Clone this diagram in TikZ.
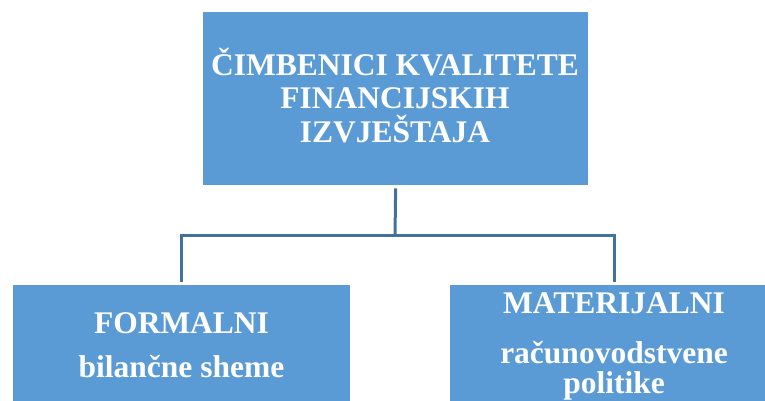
\documentclass[tikz,border=0pt]{standalone}
\usepackage{fontspec}
\setmainfont{Liberation Serif}
\definecolor{boxfill}{HTML}{5B9BD5}
\definecolor{linkcol}{HTML}{41719C}
\tikzset{
  box/.style={draw=none, fill=boxfill, inner sep=0pt, anchor=north west},
  boxtext/.style={text=white, font=\bfseries\fontsize{31.5}{33.5}\selectfont, align=center, inner sep=0pt, anchor=base},
  link/.style={draw=linkcol, line width=3pt}
}
\begin{document}
\begin{tikzpicture}[x=1pt,y=-1pt]
\useasboundingbox (0,0) rectangle (765,400);
\clip (0,0) rectangle (765,400);
% boxes
\node[box, minimum width=385pt, minimum height=173pt] (top) at (203,12) {};
\node[box, minimum width=337pt, minimum height=130pt] (left) at (13,285) {};
\node[box, minimum width=328pt, minimum height=130pt] (right) at (450,285) {};
% texts (base anchor = baseline of last line)
\node[boxtext] (toptxt) at (395,142) {ČIMBENICI KVALITETE\\FINANCIJSKIH\\IZVJEŠTAJA};
\node[boxtext] (lefttitle) at (181.5,333) {FORMALNI};
\node[boxtext] (leftsub) at (181.5,377) {bilančne sheme};
\node[boxtext] (righttitle) at (614,313) {MATERIJALNI};
\node[boxtext, font=\bfseries\fontsize{31.5}{29.5}\selectfont] (rightsub) at (614,393) {računovodstvene\\politike};
% connectors
\coordinate (bar) at (395,235);
\draw[link, shorten <=3pt] (top.south) -- (bar);
\draw[link, shorten >=3pt] (bar) -| (left.north);
\draw[link, shorten >=3pt] (bar) -| (right.north);
\end{tikzpicture}
\end{document}
